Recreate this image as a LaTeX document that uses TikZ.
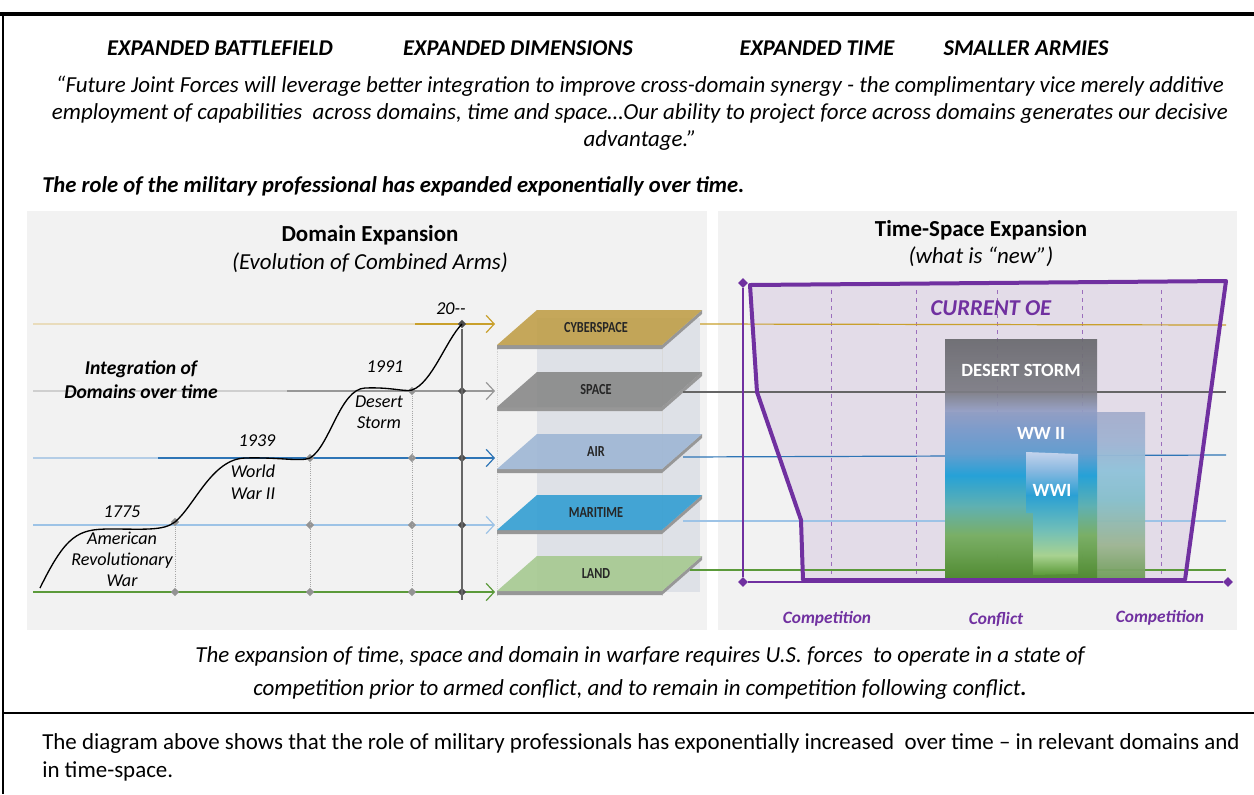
\documentclass[tikz,border=0pt]{standalone}
\usepackage{fontspec}
\usepackage{graphicx}
\setmainfont{Carlito}
\usetikzlibrary{arrows.meta,shapes.geometric}

\definecolor{panelbg}{HTML}{F2F2F2}
\definecolor{cyberc}{HTML}{C9A02C}
\definecolor{cyberl}{HTML}{E9DCBC}
\definecolor{spacec}{HTML}{7F7F7F}
\definecolor{spacel}{HTML}{CFCFCF}
\definecolor{airc}{HTML}{2E75B6}
\definecolor{airl}{HTML}{B4CDE6}
\definecolor{marc}{HTML}{9DC3E6}
\definecolor{landc}{HTML}{5B9A3A}
\definecolor{cyface}{HTML}{BF9D45}
\definecolor{spface}{HTML}{868686}
\definecolor{aiface}{HTML}{9CB5D4}
\definecolor{maface}{HTML}{2E9CD2}
\definecolor{laface}{HTML}{A4C88E}
\definecolor{edgegray}{HTML}{979797}
\definecolor{colbg}{HTML}{DEE1E7}
\definecolor{oepurple}{HTML}{7030A0}
\definecolor{oefill}{HTML}{E3DCE8}
% desert storm column
\definecolor{dsA}{HTML}{4F8A30}
\definecolor{dsB}{HTML}{78AF62}
\definecolor{dsC}{HTML}{5DB0B0}
\definecolor{dsD}{HTML}{1E9FD7}
\definecolor{dsE}{HTML}{5F9CCF}
\definecolor{dsF}{HTML}{7A9BCB}
\definecolor{dsG}{HTML}{929DC3}
\definecolor{dsH}{HTML}{7C7C84}
\definecolor{dsI}{HTML}{69696E}
% ww ii column
\definecolor{w2A}{HTML}{6F9E58}
\definecolor{w2B}{HTML}{9DB592}
\definecolor{w2C}{HTML}{86BFCB}
\definecolor{w2D}{HTML}{8FC2DA}
\definecolor{w2E}{HTML}{A0B3D2}
\definecolor{w2F}{HTML}{A4ADCC}
% ww i column
\definecolor{w1A}{HTML}{5A9A38}
\definecolor{w1B}{HTML}{A8D290}
\definecolor{w1C}{HTML}{72BFB7}
\definecolor{w1D}{HTML}{2AA0D4}
\definecolor{w1E}{HTML}{88B8E0}
\definecolor{w1F}{HTML}{C3D3EC}

\pgfdeclareverticalshading{dsshade}{100bp}{color(0bp)=(dsA); color(25bp)=(dsA);
  color(34bp)=(dsB); color(40bp)=(dsC); color(46.5bp)=(dsD); color(51bp)=(dsE);
  color(56bp)=(dsF); color(60bp)=(dsG); color(64bp)=(dsH); color(75bp)=(dsI); color(100bp)=(dsI)}
\pgfdeclareverticalshading{wwtwo}{100bp}{color(0bp)=(w2A); color(25bp)=(w2A);
  color(35bp)=(w2B); color(48.5bp)=(w2C); color(57.5bp)=(w2D); color(66.5bp)=(w2E);
  color(75bp)=(w2F); color(100bp)=(w2F)}
\pgfdeclareverticalshading{wwone}{100bp}{color(0bp)=(w1A); color(25bp)=(w1A);
  color(33bp)=(w1B); color(43bp)=(w1C); color(57.5bp)=(w1D); color(67.5bp)=(w1E);
  color(75bp)=(w1F); color(100bp)=(w1F)}

\newcommand\planetext[1]{\scalebox{0.8}[1]{#1}}

\begin{document}
\begin{tikzpicture}[x=0.75pt,y=-0.75pt,
    every node/.style={inner sep=0pt},
    hdr/.style={font=\fontsize{16.9}{19}\selectfont\bfseries\itshape},
    quote/.style={font=\fontsize{17.2}{20}\selectfont\itshape},
    ttl/.style={font=\fontsize{17.2}{20}\selectfont\bfseries},
    sub/.style={font=\fontsize{17.2}{20}\selectfont\itshape},
    yr/.style={font=\fontsize{13.6}{15.8}\selectfont\itshape, align=center},
    plab/.style={font=\fontsize{11.5}{12}\selectfont\bfseries, text=black!85},
    gdot/.style={diamond, fill=gray!85, minimum size=6.5pt},
    vdot/.style={gray!70, densely dotted, line width=0.6pt},
    dom/.style={line width=1.1pt},
    tip/.style={-{Straight Barb[length=6pt,width=13pt,line width=0.9pt]}},
    oe/.style={oepurple, line width=1.4pt},
    oedot/.style={diamond, fill=oepurple, minimum size=7.5pt},
    boxlab/.style={font=\fontsize{14}{15}\selectfont\bfseries, text=white},
    phase/.style={font=\fontsize{13}{15}\selectfont\bfseries\itshape, text=oepurple}]

\useasboundingbox (0,0) rectangle (1254,794);
\fill[white] (0,0) rectangle (1254,794);

% frame
\draw[line width=2.3pt] (0,14) -- (1254,14);
\draw[line width=1.4pt] (3,14) -- (3,794);
\draw[line width=1.8pt] (3,713) -- (1254,713);

% headings and quote
\node[hdr] (h1) at (220,48) {EXPANDED BATTLEFIELD};
\node[hdr] (h2) at (518,48) {EXPANDED DIMENSIONS};
\node[hdr] (h3) at (817,48) {EXPANDED TIME};
\node[hdr] (h4) at (1026,48) {SMALLER ARMIES};
\node[quote] (q1) at (640,86) {“Future Joint Forces will leverage better integration to improve cross-domain synergy - the complimentary vice merely additive};
\node[quote] (q2) at (640,113) {employment of capabilities\ \ across domains, time and space…Our ability to project force across domains generates our decisive};
\node[quote] (q3) at (640,140) {advantage.”};
\node[quote, font=\fontsize{17}{20}\selectfont\bfseries\itshape, anchor=west] (role) at (42,186) {The role of the military professional\ has expanded exponentially\ over time.};

% panels
\fill[panelbg] (27,211) rectangle (707,630);
\fill[panelbg] (718,211) rectangle (1237,630);
\node[ttl] (t1) at (370,235) {Domain Expansion};
\node[sub] (s1) at (370,263) {(Evolution of Combined Arms)};
\node[ttl] (t2) at (981,230) {Time-Space Expansion};
\node[sub] (s2) at (981,257) {(what is “new”)};

% ---------- domain expansion ----------
\foreach \n/\y in {cy/324, sp/391, ai/458, ma/525, la/592} {
    \coordinate (\n-s) at (33,\y);
    \coordinate (\n-e) at (495,\y);
}
\coordinate (cy-m) at (415,324);
\coordinate (sp-m) at (287,391);
\coordinate (ai-m) at (158,458);

% column behind the planes
\fill[colbg] (537,318) rectangle (700,592);
\draw[gray!30, line width=0.6pt] (662,345) -- (662,596);
\draw[gray!35, densely dotted] (497,345) -- (497,596);

% domain lines
\draw[dom, cyberl] (cy-s) -- (cy-m);
\draw[dom, cyberc, tip] (cy-m) -- (cy-e);
\draw[dom, spacel] (sp-s) -- (sp-m);
\draw[dom, spacec!80, tip] (sp-m) -- (sp-e);
\draw[dom, airl] (ai-s) -- (ai-m);
\draw[dom, airc, tip] (ai-m) -- (ai-e);
\draw[dom, marc, tip] (ma-s) -- (ma-e);
\draw[dom, landc, tip] (la-s) -- (la-e);

% grid points
\foreach \x/\y/\n in {175/522/a1, 175/592/a2,
                      310/458/b1, 310/525/b2, 310/592/b3,
                      412/391/c1, 412/458/c2, 412/525/c3, 412/592/c4} {
    \node[gdot] (\n) at (\x,\y) {};
}
\foreach \y/\n in {324/d1, 391/d2, 458/d3, 525/d4, 592/d5} {
    \node[gdot, fill=gray!60!black] (\n) at (462,\y) {};
}
\coordinate (d6) at (462,600);
\draw[vdot] (a1) -- (a2);
\draw[vdot] (b1) -- (b3);
\draw[vdot] (c1) -- (c4);
\draw[gray!80!black, line width=0.8pt] (d1) -- (d6);

% integration curve
\draw[line width=1pt] (40,588) .. controls (66,535) and (78,529) .. (110,529)
    .. controls (145,529) and (163,531) .. (175,522)
    .. controls (195,505) and (212,459) .. (245,458)
    .. controls (280,457) and (300,462) .. (310,458)
    .. controls (330,446) and (340,389) .. (365,388)
    .. controls (392,387) and (404,392) .. (412,390)
    .. controls (432,383) and (446,340) .. (462,324);

\node[yr] (y1) at (122,512) {1775};
\node[yr] (w1) at (122,559) {American\\Revolutionary\\War};
\node[yr] (y2) at (257,441) {1939};
\node[yr, font=\fontsize{13.6}{16.5}\selectfont\itshape] (w2) at (253,482) {World\\War II};
\node[yr] (y3) at (385,367) {1991};
\node[yr] (w3) at (379,412) {Desert\\Storm};
\node[yr] (y4) at (451,309) {20-{}-};
\node[yr, font=\fontsize{14.7}{18}\selectfont\bfseries\itshape] (ig) at (141,380) {Integration of\\Domains over time};

% domain planes
\foreach \n/\t/\c/\lab in {cy/310/cyface/CYBERSPACE, sp/372/spface/SPACE, ai/434/aiface/AIR,
                           ma/495/maface/MARITIME, la/556/laface/LAND} {
    \fill[edgegray] (497,\t+35) -- (662,\t+35) -- (702,\t) -- (702,\t+4) -- (662,\t+39) -- (497,\t+39) -- cycle;
    \fill[\c, opacity=.88] (537,\t) -- (702,\t) -- (662,\t+35) -- (497,\t+35) -- cycle;
    \node[plab] (\n-p) at (596,\t+18) {\planetext{\lab}};
}

% ---------- time-space expansion ----------
\fill[oefill] (750,285) -- (1226,281) -- (1185,580) -- (803,580) -- (801,520) -- (757,392) -- cycle;
\foreach \x in {831, 916, 997, 1082, 1161} {
    \draw[oepurple!70, dashed, line width=0.5pt] (\x,290) -- (\x,582);
}

% domain lines carried across
\foreach \n/\x/\y/\z/\c in {cy/700/324/325/cyberc, sp/683/392/392/spacec!80!black,
                            ai/683/457/455/airc, ma/683/521/521/marc, la/690/570/570/landc} {
    \coordinate (\n-r) at (\x,\y);
    \coordinate (\n-f) at (1226,\z);
    \draw[\c, line width=0.9pt] (\n-r) -- (\n-f);
}

% conflict columns
\shade[shading=wwtwo, opacity=.95] (945,412) rectangle (1145,578);
\shade[shading=dsshade, opacity=.93] (945,339) rectangle (1097,578);
\shade[shading=wwone] (1026,452) -- (1078,454) -- (1078,574) -- (1033,575) -- (1033,513) -- (1026,513) -- cycle;
\node[boxlab] (ds) at (1021,370) {DESERT STORM};
\node[boxlab] (ww2) at (1041,433) {WW II};
\node[boxlab] (ww1) at (1052,490) {WWI};

% operating environment
\draw[oepurple, line width=3pt, line join=round] (750,285) -- (1226,281) -- (1185,580) -- (803,580) -- (801,520) -- (757,392) -- cycle;
\node[oedot] (o1) at (743,283) {};
\node[oedot] (o2) at (743,582) {};
\node[oedot] (o3) at (1228,582) {};
\draw[oe] (o1) -- (o2) -- (o3);
\node[font=\fontsize{17}{19}\selectfont\bfseries\itshape, text=oepurple] (oe) at (991,308) {CURRENT OE};
\node[phase] (p1) at (827,619) {Competition};
\node[phase] (p2) at (996,619) {Conflict};
\node[phase] (p3) at (1160,618) {Competition};

% closing text
\node[quote] (b1) at (640,656) {The expansion of time, space and domain in warfare requires U.S. forces\ \ to operate in a state of};
\node[quote] (b2) at (640,689) {competition prior to armed conflict, and to remain in competition following conflict\textbf{.}};
\node[anchor=west, font=\fontsize{17.2}{20}\selectfont] (f1) at (42,743) {The diagram above shows that the role of military professionals has exponentially increased\ \ over time – in relevant domains and};
\node[anchor=west, font=\fontsize{17.2}{20}\selectfont] (f2) at (42,771) {in time-space.};
\end{tikzpicture}
\end{document}
